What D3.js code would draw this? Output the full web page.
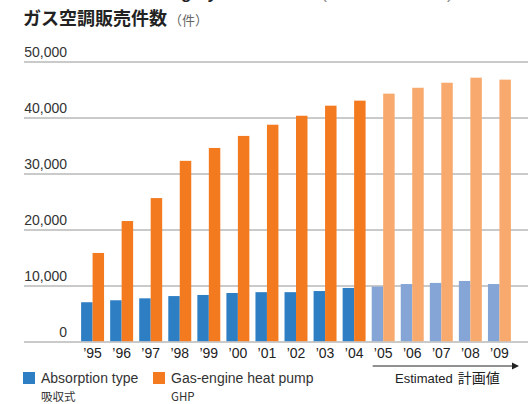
<!DOCTYPE html>
<html>
<head>
<meta charset="utf-8">
<script src="https://cdn.jsdelivr.net/npm/d3@7"></script>
<style>
  body { margin: 0; background: #fff; }
  svg { display: block; font-family: "Liberation Sans", Arial, sans-serif; }
</style>
</head>
<body>
<div id="chart"></div>
<script>
// data
const years = ["95", "96", "97", "98", "99", "00", "01", "02", "03", "04", "05", "06", "07", "08", "09"];
const absorption = [7100, 7450, 7800, 8200, 8400, 8750, 8900, 8900, 9100, 9650, 9900, 10350, 10550, 10900, 10350];
const ghp = [15900, 21600, 25700, 32350, 34650, 36800, 38800, 40400, 42200, 43100, 44350, 45400, 46300, 47200, 46850];
const estimated = [false, false, false, false, false, false, false, false, false, false, true, true, true, true, true];
const yTicks = [0, 10000, 20000, 30000, 40000, 50000];
const seriesNames = ["absorption", "ghp"];

const width = 528, height = 404;
const colors = {
  absorption: "#2e7ec3", ghp: "#f47a20",
  absorptionEst: "#84a5d6", ghpEst: "#f8aa6e"
};

const svg = d3.select("#chart").append("svg")
  .attr("width", width)
  .attr("height", height);

// english title, cut off by the top edge like in the source
const topTitle = svg.append("text")
  .attr("x", 24)
  .attr("y", -1)
  .attr("font-size", 17);
topTitle.append("tspan").attr("font-weight", "bold").attr("fill", "#222")
  .text("Gas Air-conditioning Systems Sales");
topTitle.append("tspan").attr("fill", "#888").attr("dx", 6)
  .text("(Number of units)");

// japanese title
const title = svg.append("text")
  .attr("x", 23)
  .attr("y", 25)
  .attr("font-family", "'Noto Sans CJK JP', sans-serif");
title.append("tspan")
  .attr("font-size", 18)
  .attr("font-weight", "bold")
  .attr("fill", "#222")
  .text("ガス空調販売件数");
title.append("tspan")
  .attr("font-size", 13)
  .attr("fill", "#666")
  .attr("dx", 2)
  .text("（件）");

const y = d3.scaleLinear().domain([0, 50000]).range([342, 62]);

const x = d3.scaleBand()
  .domain(years)
  .range([75, 517])
  .paddingInner(0.21)
  .paddingOuter(0.21);

const xInner = d3.scaleBand()
  .domain(seriesNames)
  .range([0, x.bandwidth()]);

// gridlines + y labels
const grid = svg.append("g");
grid.selectAll("line")
  .data(yTicks)
  .enter().append("line")
  .attr("x1", 24)
  .attr("x2", width)
  .attr("y1", d => y(d))
  .attr("y2", d => y(d))
  .attr("stroke", "#b8b8b8")
  .attr("stroke-width", 1.6);

grid.selectAll("text")
  .data(yTicks)
  .enter().append("text")
  .attr("x", 67)
  .attr("y", d => y(d) - 5)
  .attr("text-anchor", "end")
  .attr("font-size", 14)
  .attr("fill", "#333")
  .text(d => d3.format(",")(d));

// bars
const groups = svg.append("g").selectAll("g")
  .data(years)
  .enter().append("g")
  .attr("transform", d => "translate(" + x(d) + ",0)");

groups.append("rect")
  .attr("x", xInner("absorption"))
  .attr("width", xInner.bandwidth())
  .attr("y", (d, i) => y(absorption[i]))
  .attr("height", (d, i) => y(0) - y(absorption[i]) - 0.8)
  .attr("fill", (d, i) => estimated[i] ? colors.absorptionEst : colors.absorption);

groups.append("rect")
  .attr("x", xInner("ghp"))
  .attr("width", xInner.bandwidth())
  .attr("y", (d, i) => y(ghp[i]))
  .attr("height", (d, i) => y(0) - y(ghp[i]) - 0.8)
  .attr("fill", (d, i) => estimated[i] ? colors.ghpEst : colors.ghp);

// x labels
groups.append("text")
  .attr("x", x.bandwidth() / 2)
  .attr("y", 358)
  .attr("text-anchor", "middle")
  .attr("font-size", 14)
  .attr("fill", "#222")
  .text(d => "\u2019" + d);

// estimated arrow
const firstEst = years[estimated.indexOf(true)];
const arrowX0 = x(firstEst) + 1;
svg.append("line")
  .attr("x1", arrowX0)
  .attr("x2", 514)
  .attr("y1", 366)
  .attr("y2", 366)
  .attr("stroke", "#222")
  .attr("stroke-width", 1);
svg.append("path")
  .attr("d", "M512,362.5 L519,366 L512,369.5 Z")
  .attr("fill", "#222");
svg.append("text")
  .attr("x", 395)
  .attr("y", 383)
  .attr("font-size", 13)
  .attr("fill", "#222")
  .text("Estimated")
  .append("tspan")
  .attr("dx", 5)
  .attr("font-family", "'Noto Sans CJK JP', sans-serif")
  .attr("font-size", 14)
  .text("計画値");

// legend
const legendItems = [
  { color: colors.absorption, en: "Absorption type", jp: "吸収式", x: 23 },
  { color: colors.ghp, en: "Gas-engine heat pump", jp: "GHP", x: 153 }
];
const legend = svg.append("g").selectAll("g")
  .data(legendItems)
  .enter().append("g");
legend.append("rect")
  .attr("x", d => d.x)
  .attr("y", 372)
  .attr("width", 12)
  .attr("height", 12)
  .attr("fill", d => d.color);
legend.append("text")
  .attr("x", d => d.x + 18)
  .attr("y", 383)
  .attr("font-size", 14)
  .attr("fill", "#333")
  .text(d => d.en);
legend.append("text")
  .attr("x", d => d.x + 18)
  .attr("y", 400.5)
  .attr("font-size", 11.5)
  .attr("fill", "#333")
  .attr("font-family", "'Noto Sans CJK JP', 'Liberation Sans', sans-serif")
  .text(d => d.jp);
</script>
</body>
</html>
